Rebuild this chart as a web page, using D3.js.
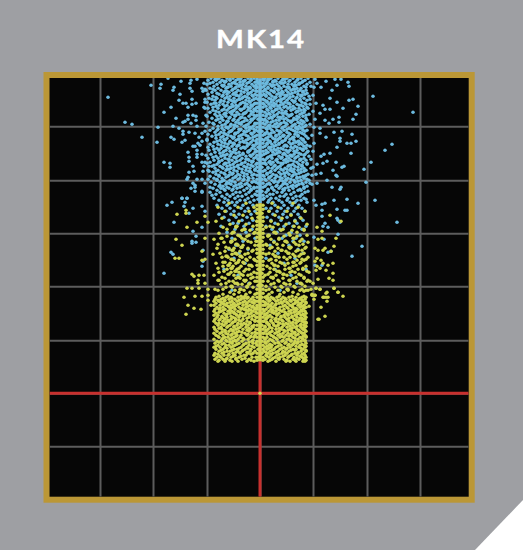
<!DOCTYPE html>
<html><head><meta charset="utf-8">
<script src="https://cdn.jsdelivr.net/npm/d3@7"></script>
<style>html,body{margin:0;padding:0;background:#fff}svg{display:block}</style>
</head><body><svg id="c" width="524" height="550"></svg>
<script>
const title = ["M","K","1","4"];
const xGrid = [-160,-107,-53,0,53,107,160];
const yGrid = [267,213,160,107,53,0,-53];
const centerBlue = [315,190];
const centerYellow = [190,32];
const origin = [0,0];
// sparse points read one by one: x,y pairs
const blueOuter = [-152,296,-135,271,-128,269,-118,256,-103,251,-109,308,-100,305,-99,309,-96,281,-102,266,-96,231,-90,230,-90,226,-89,256,-86,254,-89,286,-87,303,-86,306,-92,315,-79,312,-80,299,-81,293,-77,290,-74,290,-72,286,-68,294,-64,290,-68,289,-55,291,-55,285,-84,275,-87,267,-81,265,-77,271,-75,272,-72,278,-72,274,-67,278,-64,277,-64,273,-69,270,-63,267,-77,262,-77,259,-71,261,-65,260,-58,260,-61,256,-58,252,-62,250,-75,253,-78,251,-60,248,-65,247,-67,247,-63,243,-72,241,-63,239,-58,239,-71,236,-63,236,-71,232,-58,231,-55,231,-56,227,-51,227,-67,227,-71,221,-66,222,-57,222,-72,216,-73,214,-67,210,-63,214,-58,214,-55,210,-69,205,-65,206,-65,202,-58,201,-78,195,-73,195,-69,313,-70,310,-70,305,-68,302,-63,314,-58,305,-55,304,
113,297,153,281,132,249,125,243,111,231,104,224,106,211,88,311,89,307,75,314,81,314,66,312,77,308,72,303,70,295,77,291,89,293,93,294,98,287,83,285,96,279,93,274,79,276,79,271,73,274,69,270,65,273,63,288,70,284,65,284,60,280,57,310,61,306,60,265,60,260,74,261,82,262,92,259,80,255,80,252,66,256,96,252,91,250,87,250,77,246,70,240,64,239,61,237,91,240,76,231,67,232,63,230,57,229,82,226,84,227,73,223,76,218,77,217,61,220,56,219,67,213,72,206,81,206,80,204,52,209,57,210,87,194,115,193,98,190,74,193,65,190,62,189,56,188,54,193,62,183,77,184,85,183,87,183,62,177,77,175,78,173,80,171,65,170,63,167,68,166,137,171,78,159,102,147,92,137,54,156,64,154,68,141,71,142,55,128,62,128,43,124,
-93,188,-88,191,-78,195,-73,195,-75,191,-76,187,-67,185,-71,180,-86,171,-58,166,-67,162,-64,157,-68,152,-64,151,-68,150,-89,141,-87,139,-96,120,-57,143,-58,127,-57,132,-58,187,-55,182,-65,208,-58,202];
const yellowOuter = [-83,179,-74,183,-74,180,-63,171,-73,166,-84,154,-78,148,-55,155,-58,142,-85,135,-81,135,-58,133,-55,134,-68,119,-66,117,-61,118,-56,118,-62,113,-62,110,-55,110,-73,105,-68,105,-61,105,-76,96,-65,97,-58,97,-55,177,-52,171,-72,88,-66,85,-59,84,-74,79,-52,104,-52,98,-52,93,-49,88,-45,104,
49,87,61,86,65,77,58,74,59,74,66,96,68,96,64,96,67,92,83,97,78,101,74,105,67,101,55,98,53,98,52,99,54,94,48,103,44,102,56,105,60,104,51,104,70,178,81,172,57,166,62,162,76,155,58,154,62,155,74,147,55,145,58,143,65,145,63,143,71,142,57,135,61,133,55,132,63,130,73,130,68,128,57,127,60,125,66,123,56,123,73,120,69,115,58,114,73,113,50,112,53,110,56,105,60,104,74,105,66,100,78,101,52,98,55,98,63,96];
// points hugging the central column and the soft cloud edges: [y, x, x, ...]
const blueNear = [[314,-3,3,55],[310,-2,3,-56],[306,-3,2,54],[302,-3,3,-57],[298,2,-3,53],[294,-2,3,-55],[290,3,-3,56],[286,-2,3,-56],[282,-3,2,53],[278,-3,3,-54],[274,2,-2,55],[270,-3,3,-57],[266,3,-3,54],[262,-2,2,-55],[258,-3,3,52],[254,2,-3,-53],[250,-3,3,54],[246,-2,3,-52],[242,3,-3,53],[238,-3,2,-54],[234,-2,3,51],[230,3,-3,-53],[226,-3,2,53],[222,-2,3,-51],[218,3,-3,52],[214,-3,2,-52],[210,3,-2,50],[206,-3,3,-50],[202,2,-3,48],[198,-3,3,-48],[194,3,-2,46]];
const yellowNear = [[188,-3,3],[184,3,-3],[180,-3,2],[176,3,-2],[172,-3,3],[168,2,-3],[164,-3,3],[160,-2,3],[156,3,-3],[152,-3,2],[148,-2,3],[144,3,-3],[140,-3,3],[136,2,-2],[132,-3,3],[128,3,-3],[124,-2,3],[120,-3,2],[116,3,-3],[112,-3,3],[108,2,-2],[104,-3,3],[100,3,-3],[96,-3,2],[92,-2,3],[88,3,-3],[84,-3,3],[80,2,-3],[76,-3,3],[72,3,-2],[68,-3,2],[64,-2,3],[60,3,-3],[56,-3,3],[52,2,-3],[48,-3,3],[44,3,-2],[40,-3,2],[36,-2,3],[33,3,-3]];
// dense clouds: [y, x, x, x, ...]
const blueRows = [
[315,-49,-41,-33,-27,-19,-12,-6,5,11,18,27,33,41,48],
[314,-45,-43,-30,-22,-20,-9,8,9,23,25,38],
[313,-52,-44,-38,-30,-24,-15,-9,4,8,15,22,30,37,45],
[312,-36,-34,-17,-16,-3,13,16,29,43],
[311,-47,-40,-35,-26,-20,-11,-5,7,13,20,25,35,42,50],
[310,-50,-28,-25,-13,6,21,23,39,40],
[309,-53,-43,-31,-23,-17,-8,6,10,17,28,32,39,47],
[308,-38,-36,-20,-18,-4,12,14,35,36],
[307,-46,-37,-29,-21,-14,-6,4,12,19,24,34,44,51],
[306,-33,-32,-24,-11,-10,8,27,29,46],
[305,-50,-42,-34,-25,-18,-10,-4,8,15,21,29,37,41],
[304,-47,-27,-15,-13,5,18,33,35],
[303,-54,-45,-39,-28,-22,-13,-7,5,11,18,26,31,40,46],
[302,-35,-33,-19,-4,13,14,22,38,43],
[301,-48,-36,-31,-24,-16,-9,7,14,23,28,35,43],
[300,-43,-26,-12,-11,9,19,20,32,47],
[299,-52,-41,-33,-27,-19,-12,-5,4,10,17,22,30,38,45],
[298,-37,-24,-23,-8,6,25,27,41,42],
[297,-47,-38,-30,-21,-15,-7,6,12,20,26,33,41,49],
[296,-44,-33,-17,-13,15,16,30,37],
[295,-51,-43,-35,-26,-18,-11,-4,9,15,24,29,36,44],
[294,-48,-31,-21,-20,-6,11,21,22,40,50],
[293,-45,-39,-29,-23,-14,-8,5,13,19,27,32,40,47],
[292,-36,-27,-26,-11,7,17,34,35],
[291,-53,-40,-32,-25,-17,-10,7,11,21,25,34,42],
[290,-46,-44,-19,-15,-5,14,28,29,45],
[289,-49,-37,-28,-20,-13,-6,4,9,16,23,30,37,46,50],
[288,-41,-33,-24,-9,-8,12,20,39,41],
[287,-44,-35,-27,-22,-15,-8,6,14,18,26,33,43],
[286,-47,-30,-29,-12,-3,10,24,30,47],
[285,-52,-42,-31,-24,-16,-10,-4,11,20,28,35,39,48],
[284,-36,-20,-18,-6,7,16,17,33,44],
[283,-47,-38,-33,-26,-19,-12,-5,8,15,22,31,41,45],
[282,-44,-28,-27,-9,12,26,37,38],
[281,-50,-41,-30,-23,-14,-7,5,13,19,25,36,44],
[280,-35,-34,-16,-15,9,22,24,42],
[279,-45,-36,-28,-21,-17,-9,7,10,17,27,32,40,49],
[278,-40,-25,-24,-6,14,30,31,46],
[277,-53,-43,-34,-25,-11,-4,6,14,23,29,37,43],
[276,-38,-30,-19,-18,11,18,20,39],
[275,-48,-39,-31,-20,-15,-6,9,12,21,26,34,46],
[274,-42,-26,-9,-8,5,24,36,37],
[273,-44,-37,-27,-22,-13,-8,4,16,19,28,33,41,47],
[272,-33,-32,-16,7,13,30,31,43],
[271,-51,-40,-33,-24,-18,-10,7,11,24,31,38,44],
[270,-47,-21,-20,-5,17,21,26,40],
[269,-46,-35,-29,-19,-12,-5,5,15,20,27,35,42,50],
[268,-38,-26,-25,-14,9,10,33,46],
[267,-54,-42,-30,-23,-16,-7,8,13,18,25,32,39,45],
[266,-34,-33,-11,-10,16,23,36,43],
[265,-47,-38,-32,-26,-14,-9,6,10,22,29,36,41],
[264,-42,-21,-19,-6,7,27,31,38],
[263,-50,-43,-36,-28,-20,-11,-4,12,17,24,33,43,47],
[262,-30,-29,-16,-13,19,20,35,45],
[261,-45,-39,-31,-22,-15,-6,7,14,21,27,37,40],
[260,-36,-25,-24,-9,5,11,29,42],
[259,-52,-41,-34,-25,-17,-8,5,9,19,30,35,44],
[258,-44,-32,-19,-14,16,23,24,38],
[257,-48,-37,-29,-21,-12,-5,11,16,23,28,38,46],
[256,-39,-27,-26,-7,8,20,33,34],
[255,-44,-33,-27,-18,-10,6,13,20,26,32,41,48],
[254,-36,-22,-21,-12,15,18,30,43],
[253,-53,-40,-35,-24,-14,-7,4,8,17,25,34,43],
[252,-43,-30,-17,-4,10,22,23,38,39],
[251,-46,-38,-30,-20,-16,-9,10,15,22,29,36,45],
[250,-35,-27,-26,-13,7,19,33,41],
[249,-50,-42,-32,-26,-11,-4,7,12,19,31,39,42],
[248,-39,-22,-21,-7,16,25,26,47],
[247,-47,-36,-28,-23,-13,-6,5,14,24,27,35,44,50],
[246,-33,-17,-16,9,11,31,37],
[245,-43,-39,-31,-19,-15,-8,9,18,21,33,40,46],
[244,-46,-26,-24,-5,14,23,42,43],
[243,-51,-41,-34,-25,-10,6,11,16,26,30,37,43],
[242,-36,-30,-12,-11,19,28,34,48],
[241,-45,-37,-27,-21,-12,-5,8,13,20,28,36,47],
[240,-40,-24,-17,6,17,24,39],
[239,-49,-33,-29,-17,-7,4,15,23,25,34,41,45],
[238,-37,-35,-20,-10,12,30,31,44],
[237,-44,-39,-30,-22,-14,-9,10,19,27,32,38,49],
[236,-47,-26,-25,-4,8,22,36],
[235,-52,-42,-35,-24,-18,-6,7,12,21,29,35,44],
[234,-32,-31,-14,-12,17,26,40,41],
[233,-46,-38,-28,-20,-11,5,16,24,31,40,46],
[232,-41,-23,-8,-7,10,28,34],
[231,-50,-41,-31,-25,-15,-8,9,13,18,26,37,43],
[230,-35,-34,-18,5,21,23,47],
[229,-43,-36,-27,-19,-12,-4,6,11,22,33,39,47],
[228,-46,-30,-22,-9,15,29,31,42],
[227,-48,-40,-33,-23,-16,-7,14,20,28,35,42],
[226,-38,-26,-14,-13,8,18,38],
[225,-45,-37,-29,-21,-10,8,12,17,25,31,44,51],
[224,-33,-31,-18,-5,21,27,34,41],
[223,-52,-42,-34,-26,-14,-5,5,15,23,30,38,46],
[222,-44,-23,-11,-10,11,32,44],
[221,-47,-39,-30,-18,-9,10,19,27,34,41],
[220,-36,-27,-16,7,24,25,39],
[219,-44,-35,-28,-22,-13,-6,7,13,21,29,36,48],
[218,-41,-31,-20,-8,16,33,46],
[217,-50,-41,-32,-24,-16,4,11,17,25,32,43,45],
[216,-34,-25,-12,9,20,37,40],
[215,-46,-38,-27,-20,-11,-7,9,15,22,28,37,44],
[214,-43,-22,-16,5,26,31,47],
[213,-43,-36,-30,-17,-12,6,12,20,26,34,41,49],
[212,-38,-28,-6,15,23,38],
[211,-49,-40,-33,-25,-8,-4,14,18,30,35,46],
[210,-31,-19,-13,9,25,42],
[209,-45,-34,-29,-21,-15,7,10,23,27,39,43],
[208,-40,-24,-11,17,33,37],
[207,-41,-37,-26,-18,-10,5,16,21,31,36,47],
[206,-33,-20,-6,12,28,44],
[205,-47,-39,-31,-23,-13,-6,12,19,25,33,44],
[204,-36,-27,-9,8,23,40],
[203,-43,-35,-28,-16,-9,8,14,24,29,38,41],
[201,-50,-40,-24,-20,-11,6,17,22,34,45],
[199,-44,-33,-27,-14,-5,10,13,26,31,42],
[197,-38,-30,-22,-18,-8,7,20,24,36,40],
[195,-46,-35,-25,-12,4,11,16,28,33,44],
[193,-41,-32,-20,-15,-6,9,19,27,37,41],
[191,-36,-28,-23,-10,8,13,22,30,35,47],
[188,-43,-33,-25,-17,-7,15,24,32,39],
[185,-38,-30,-19,-12,6,11,21,28,36,42],
[182,-34,-26,-15,-5,9,17,25,34,45],
[179,-41,-29,-21,-9,13,23,31,38],
[176,-36,-24,-13,7,19,27,40],
[173,-31,-18,-7,11,21,35,43],
[170,-27,-22,-11,15,29,37],
[167,-39,-16,6,24,33,46],
[164,-25,-8,12,20,42],
[161,-33,-14,17,31],
[158,-20,9,26,40],
[155,-28,-5,22,36],
[152,-17,14,33,44],
[148,-24,10,29],
[144,-31,-12,38],
[140,-21,18,43],
[135,-26,6,35],
[130,-15,24],
[124,-36,15,46],
[118,-22,31],
[110,-11,37],
[103,-28,20]];
const yellowRows = [
[190,-31,-14,12,33],
[186,-42,-22,-6,18,38],
[182,-35,-11,9,27,45],
[178,-26,-17,15,31],
[175,-38,-8,22,41],
[172,-44,-21,-3,11,35],
[169,-30,-14,18,26,47],
[167,-24,-23,-7,10,34],
[166,-37,-24,6,13,39],
[164,-33,-16,-15,23,44],
[163,-18,-10,21,32,44],
[161,-27,-26,-5,14,15,37],
[160,-41,-28,-6,16,29],
[158,-22,-11,8,9,30,47],
[157,-33,-20,-13,8,24,37],
[155,-39,-38,-18,19,33,34],
[154,-46,-25,-15,11,19,42],
[152,-29,-28,-12,-4,25,26,40],
[151,-36,-29,-9,14,27,34,48],
[149,-42,-24,-23,6,17,36,43],
[148,-22,-17,-5,7,23,39],
[146,-34,-19,-18,12,29,31,46],
[145,-43,-31,-26,-12,10,18,30,45],
[143,-28,-27,-7,21,22,38,42],
[142,-35,-20,-8,15,26,36],
[140,-40,-25,-24,-12,9,28,29,44],
[139,-47,-28,-23,-15,6,13,33,41],
[137,-34,-33,-20,-19,15,16,35,39],
[136,-38,-32,-18,-10,19,24,30,48],
[134,-29,-28,-14,-6,11,27,42,46],
[133,-26,-21,-13,-5,9,16,37,44],
[131,-37,-35,-22,-17,20,33,34,41],
[130,-44,-30,-24,-16,12,22,28,40],
[128,-32,-31,-11,-9,14,15,25,36],
[127,-37,-27,-19,-8,7,18,33,46],
[125,-42,-29,-28,-21,10,29,30,43],
[124,-33,-23,-14,-11,14,25,38,43],
[122,-36,-25,-24,-16,17,19,32,47],
[121,-41,-29,-21,-6,10,20,30,35,49],
[119,-32,-31,-19,-9,8,23,24,39],
[118,-46,-26,-17,-12,5,16,27,41],
[116,-38,-22,-21,-7,11,13,36,44],
[115,-35,-24,-20,-9,13,23,33,44],
[113,-42,-41,-16,-14,18,29,30,48],
[112,-31,-27,-15,-5,8,19,37,47],
[110,-34,-25,-23,-10,14,24,40,41],
[109,-39,-22,-18,-11,11,26,30,42],
[107,-29,-28,-13,6,21,34,45],
[106,-34,-28,-13,-7,15,22,35],
[104,-37,-20,-19,9,27,28,42],
[103,-42,-25,-16,6,18,28,40,46],
[101,-30,-21,-10,12,24,33],
[99,-37,-26,-14,-5,9,20,38],
[97,-41,-32,-19,-15,7,19,32,44],
[96,-44,-34,-29,-22,-17,-12,-7,5,11,17,23,29,36,42,46],
[95,-37,-28,-16,-13,8,13,25,40],
[94,-45,-39,-31,-25,-19,-9,7,14,21,26,33,39,45],
[93,-42,-35,-21,-6,10,18,30,35,42],
[92,-46,-41,-36,-28,-23,-15,-11,-4,9,16,24,31,37,43],
[91,-39,-30,-17,-8,5,21,27,38,46],
[90,-44,-38,-33,-26,-20,-13,-6,6,12,19,22,28,35,41,46],
[89,-36,-27,-22,-14,8,16,33,40],
[88,-46,-40,-34,-29,-24,-17,-10,5,10,15,25,30,38,44],
[87,-32,-25,-12,-7,11,23,32,42],
[86,-43,-37,-31,-27,-21,-14,-8,-3,8,13,20,27,33,40,46],
[85,-40,-29,-18,-5,16,28,36,44],
[84,-45,-41,-35,-25,-19,-16,-11,-5,6,11,18,24,34,37,43],
[83,-37,-30,-14,-9,13,20,31,41],
[82,-46,-39,-32,-28,-22,-12,-7,4,9,16,22,29,36,42,45],
[81,-41,-26,-20,-4,12,25,34,39],
[80,-44,-36,-30,-26,-18,-14,-9,7,14,19,26,31,39,46],
[79,-33,-24,-11,5,17,28,37,43],
[78,-46,-42,-34,-23,-20,-15,-6,5,10,17,24,28,35,41,44],
[77,-38,-29,-17,-8,8,21,32,45],
[76,-43,-38,-33,-27,-21,-11,-4,8,12,21,25,32,37,46],
[75,-36,-25,-13,6,16,29,40,42],
[74,-45,-40,-35,-29,-24,-17,-8,6,15,19,27,34,43,45],
[73,-41,-32,-21,-5,11,22,36,39],
[72,-46,-37,-31,-25,-19,-13,-5,4,11,16,23,29,38,42],
[71,-34,-27,-10,7,18,33,44,46],
[70,-44,-41,-34,-28,-22,-16,-10,7,13,20,26,31,36,46],
[69,-38,-19,-14,9,23,28,41],
[68,-42,-36,-30,-23,-18,-12,-6,9,14,18,24,33,40,44],
[67,-32,-26,-8,5,16,30,37,46],
[66,-46,-39,-33,-26,-20,-14,-7,5,10,22,27,35,41,45],
[65,-41,-22,-11,12,19,32,43],
[64,-45,-38,-29,-24,-17,-9,-4,8,16,21,30,37,43],
[63,-35,-27,-13,6,24,28,39,45],
[62,-43,-35,-31,-27,-21,-11,6,12,19,25,32,39,46],
[61,-38,-23,-18,-5,10,17,35,41],
[60,-46,-40,-34,-25,-15,-8,4,9,15,23,28,34,42,44],
[59,-32,-28,-12,7,20,31,38],
[58,-44,-37,-29,-23,-19,-13,-5,11,18,26,31,36,45],
[57,-42,-24,-9,13,22,29,43,46],
[56,-41,-35,-32,-26,-20,-10,-6,7,14,20,24,33,40,46],
[55,-37,-28,-17,5,16,35,42],
[54,-46,-38,-30,-22,-16,-12,5,10,17,27,29,38,43],
[53,-34,-25,-7,12,23,31,45],
[52,-43,-39,-33,-27,-24,-18,-8,8,13,22,31,35,41,45],
[51,-41,-30,-11,5,18,26,38],
[50,-45,-36,-28,-21,-14,-7,-4,6,15,19,25,34,37,46],
[49,-38,-23,-16,10,29,33,42],
[48,-42,-34,-31,-25,-17,-11,9,12,21,28,32,40,44],
[47,-44,-27,-8,7,18,36,46],
[46,-46,-40,-35,-29,-19,-13,-6,5,11,16,24,30,39,45],
[45,-33,-21,-12,9,22,27,41],
[44,-44,-37,-26,-23,-15,-9,7,14,20,26,33,36,43],
[43,-39,-28,-17,12,31,35,46],
[42,-41,-33,-30,-22,-18,-10,-5,4,10,18,23,29,41,46],
[41,-36,-24,-13,6,16,25,38],
[40,-45,-38,-27,-20,-12,-7,8,13,22,27,35,38,44],
[39,-42,-31,-9,11,19,32,42],
[38,-46,-36,-32,-25,-16,-14,6,11,17,25,31,37,45],
[37,-40,-27,-19,7,23,29,40],
[36,-43,-39,-29,-21,-8,-4,9,15,20,28,34,42,46],
[35,-33,-24,-15,13,18,37,44],
[34,-45,-37,-34,-24,-18,-11,5,12,19,24,33,39,44],
[33,-41,-30,-9,10,27,35,46],
[32,-42,-35,-28,-22,-13,-6,8,16,26,30,36,43,45]];

const W=524,H=550,L=49.5,R=468.7,T=78,B=496.7;
const x=d3.scaleLinear().domain([-210.5,208.7]).range([L,R]);
const y=d3.scaleLinear().domain([315.3,-103.4]).range([T,B]);
const svg=d3.select("#c");
svg.append("path").attr("d",`M0 0H${W-1}V500L475 ${H}H0Z`).attr("fill","#9e9fa3");
svg.append("rect").attr("x",46.5).attr("y",75).attr("width",425.2).attr("height",424.7)
  .attr("fill","#060606").attr("stroke","#bb9736").attr("stroke-width",6);
svg.append("defs").append("clipPath").attr("id","plot").append("rect")
  .attr("x",L).attr("y",T).attr("width",R-L).attr("height",B-T);
const g=svg.append("g").attr("clip-path","url(#plot)");

const gx=g.append("g").attr("transform",`translate(0,${B})`)
  .call(d3.axisBottom(x).tickValues(xGrid).tickSize(-(B-T)).tickFormat(""));
const gy=g.append("g").attr("transform",`translate(${L},0)`)
  .call(d3.axisLeft(y).tickValues(yGrid).tickSize(-(R-L)).tickFormat(""));
[gx,gy].forEach(a=>{a.select(".domain").remove();
  a.selectAll("line").attr("stroke","#5c5c5c").attr("stroke-width",2);});

g.append("line").attr("x1",L).attr("x2",R).attr("y1",y(0)).attr("y2",y(0)).attr("stroke","#c8302e").attr("stroke-width",3);
g.append("line").attr("x1",x(0)).attr("x2",x(0)).attr("y1",T).attr("y2",B).attr("stroke","#c8302e").attr("stroke-width",3);

const pairs=f=>d3.range(0,f.length,2).map(i=>[f[i],f[i+1]]);
const rows=r=>r.flatMap(([v,...xs])=>xs.map(u=>[u,v]));
const dots=(data,c)=>g.append("g").selectAll("circle").data(data).join("circle")
  .attr("cx",d=>x(d[0])).attr("cy",d=>y(d[1])).attr("r",1.75).attr("fill",c);
const BLUE="#6cbade",YEL="#cdd450";
dots(rows(blueRows),BLUE);
dots(rows(blueNear),BLUE);
dots(pairs(blueOuter),BLUE);
dots(rows(yellowRows),YEL);
dots(rows(yellowNear),YEL);
dots(pairs(yellowOuter),YEL);
g.append("line").attr("x1",x(0)).attr("x2",x(0)).attr("y1",y(centerBlue[0])).attr("y2",y(centerBlue[1])).attr("stroke",BLUE).attr("stroke-width",3.6);
g.append("line").attr("x1",x(0)).attr("x2",x(0)).attr("y1",y(centerYellow[0])).attr("y2",y(centerYellow[1])).attr("stroke",YEL).attr("stroke-width",3.6);
dots([origin],YEL);

svg.append("text").attr("transform","translate(0,48) scale(1.2,1)")
  .attr("x",[216,246,268,287].map(v=>v/1.2).join(" "))
  .attr("font-family","Lato").attr("font-weight",700).attr("font-size",24.5)
  .attr("stroke","#fff").attr("stroke-width",0.4).attr("fill","#fff")
  .text(title.join(""));
</script></body></html>
